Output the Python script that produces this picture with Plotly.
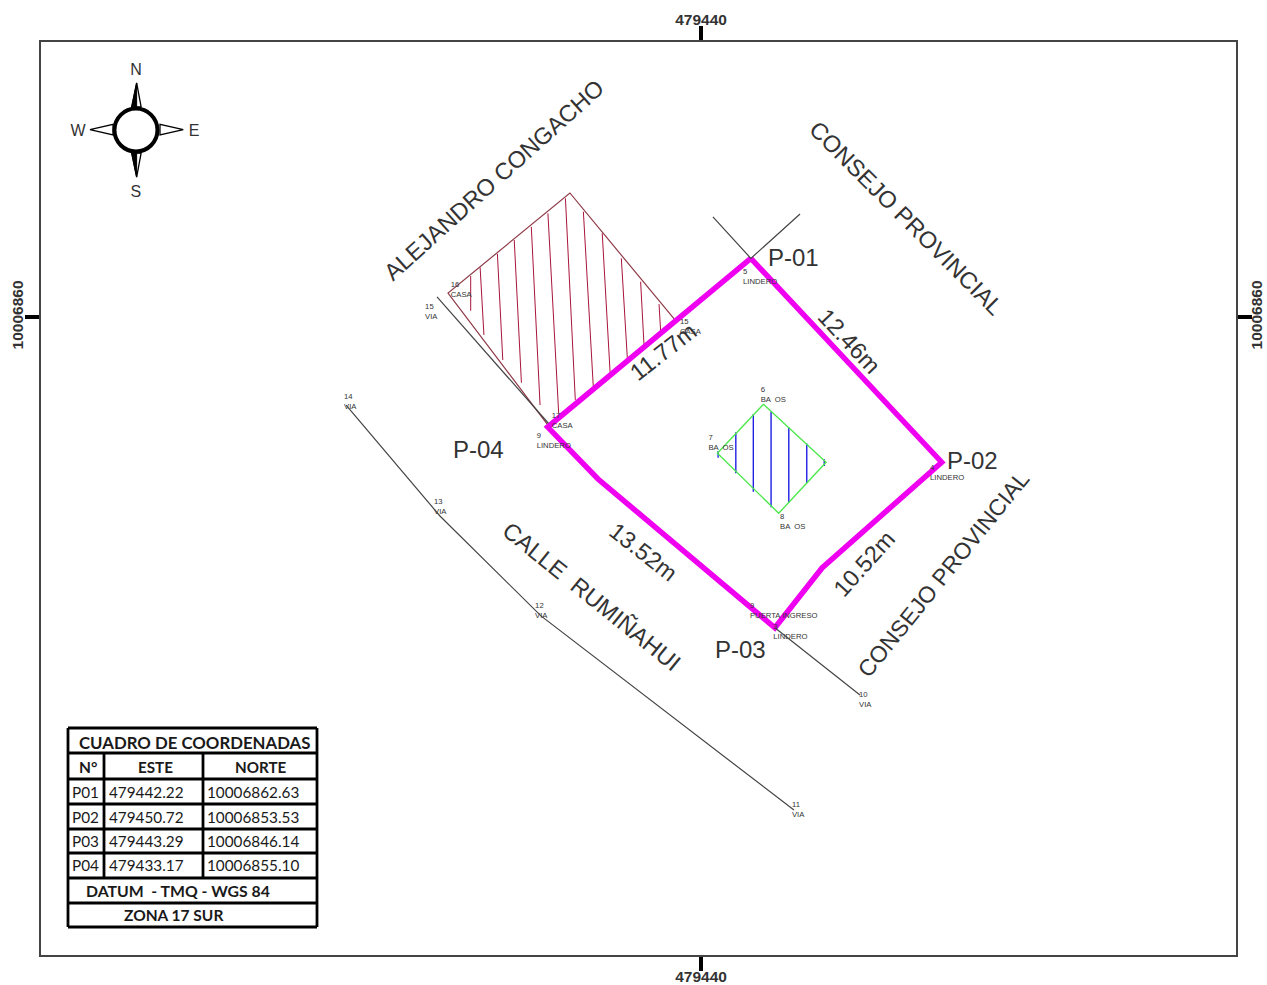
import plotly.graph_objects as go

# Map coordinates (metres, WGS84 / TMQ)
lot_este = [479442.22, 479450.72, 479445.39, 479443.29, 479435.41, 479433.17, 479442.22]
lot_norte = [10006862.63, 10006853.53, 10006848.81, 10006846.14, 10006852.78, 10006855.10, 10006862.63]

casa_este = [479438.84, 479434.16, 479428.73, 479433.18]
casa_norte = [10006859.88, 10006865.55, 10006861.08, 10006855.19]

casa_hatch_este = [479429.74, 479429.74, None, 479430.16, 479430.33, None, 479430.93, 479431.17, None,
                   479431.68, 479432.00, None, 479432.44, 479432.83, None, 479433.18, 479433.66, None,
                   479433.96, 479434.40, None, 479434.76, 479435.20, None, 479435.60, 479435.95, None,
                   479436.45, 479436.72, None, 479437.31, 479437.46, None, 479438.13, 479438.20]
casa_hatch_norte = [10006861.84, 10006860.29, None, 10006862.23, 10006859.21, None, 10006862.83, 10006858.09, None,
                    10006863.45, 10006857.08, None, 10006864.04, 10006856.08, None, 10006864.64, 10006855.71, None,
                    10006865.31, 10006856.31, None, 10006864.71, 10006856.93, None, 10006863.75, 10006857.54, None,
                    10006862.63, 10006858.14, None, 10006861.59, 10006858.76, None, 10006860.59, 10006859.40]

banos_este = [479442.78, 479445.57, 479443.46, 479440.73, 479442.78]
banos_norte = [10006856.12, 10006853.53, 10006851.25, 10006853.93, 10006856.12]

banos_hatch_este = [479440.76, 479440.76, None, 479441.55, 479441.55, None, 479442.33, 479442.33, None,
                    479443.12, 479443.12, None, 479443.91, 479443.91, None, 479444.71, 479444.71, None,
                    479445.49, 479445.49]
banos_hatch_norte = [10006854.03, 10006853.73, None, 10006854.87, 10006853.04, None, 10006855.68, 10006852.21, None,
                     10006855.79, 10006851.52, None, 10006855.09, 10006851.72, None, 10006854.37, 10006852.59, None,
                     10006853.66, 10006853.36]

via_este = [479424.19, 479428.37, 479432.87, 479444.14, None, 479428.24, 479433.20, None,
            479443.29, 479447.08, None, 479440.53, 479442.22, 479444.41]
via_norte = [10006856.08, 10006851.13, 10006846.67, 10006838.00, None, 10006860.91, 10006855.27, None,
             10006846.14, 10006843.14, None, 10006864.48, 10006862.63, 10006864.61]

punto_este = [479441.87, 479450.20, 479443.22, 479432.68, 479442.18, 479442.66, 479440.33, 479443.52,
              479447.04, 479444.05, 479432.61, 479428.11, 479424.10, 479427.71, 479428.85, 479439.06, 479433.35]
punto_norte = [10006861.80, 10006853.05, 10006845.96, 10006854.48, 10006846.89, 10006856.53, 10006854.37, 10006850.87,
               10006842.92, 10006838.00, 10006846.89, 10006851.53, 10006856.22, 10006860.24, 10006861.22, 10006859.57, 10006855.37]
punto_txt = ["5<br>LINDERO", "4<br>LINDERO", "3<br>LINDERO", "9<br>LINDERO", "9<br>PUERTA INGRESO",
             "6<br>BA  OS", "7<br>BA  OS", "8<br>BA  OS", "10<br>VIA", "11<br>VIA", "12<br>VIA", "13<br>VIA",
             "14<br>VIA", "15<br>VIA", "16<br>CASA", "15<br>CASA", "17<br>CASA"]

rot_txt = ["ALEJANDRO CONGACHO", "CONSEJO PROVINCIAL", "CONSEJO PROVINCIAL", "CALLE  RUMIÑAHUI",
           "11.77m", "12.46m", "13.52m", "10.52m", "P-01", "P-02", "P-03", "P-04"]
rot_este = [479430.78, 479449.13, 479450.80, 479435.14, 479438.31, 479446.59, 479437.42, 479447.26,
            479444.12, 479452.10, 479441.76, 479430.09]
rot_norte = [10006866.13, 10006864.43, 10006848.54, 10006847.51, 10006858.45, 10006858.94, 10006849.52, 10006848.99,
             10006862.65, 10006853.62, 10006845.19, 10006854.08]
rot_ang = [-42, 45, -51, 39, -38, 47, 38, -48, 0, 0, 0, 0]
rot_size = [23.5, 23.5, 23, 23.5, 23.5, 23.5, 23.5, 23.5, 24, 24, 24, 24]

compass_x = 479414.83
compass_y = 10006868.36
arrow_este = [[479414.86, 479414.64, 479415.06, 479414.86], [479416.94, 479415.90, 479415.90, 479416.94],
              [479414.86, 479414.64, 479415.06, 479414.86], [479412.78, 479413.81, 479413.81, 479412.78]]
arrow_norte = [[10006870.46, 10006869.39, 10006869.39, 10006870.46], [10006868.38, 10006868.61, 10006868.14, 10006868.38],
               [10006866.26, 10006867.33, 10006867.33, 10006866.26], [10006868.38, 10006868.61, 10006868.14, 10006868.38]]
half_este = [[479414.86, 479414.64, 479414.86, 479414.86], [479414.86, 479414.64, 479414.86, 479414.86]]
half_norte = [[10006870.46, 10006869.39, 10006869.39, 10006870.46], [10006866.26, 10006867.33, 10006867.33, 10006866.26]]
card_txt = ["N", "E", "S", "W"]
card_este = [479414.83, 479417.42, 479414.83, 479412.25]
card_norte = [10006870.99, 10006868.27, 10006865.55, 10006868.27]

tabla_filas = ["CUADRO DE COORDENADAS", "N°", "ESTE", "NORTE", "DATUM  - TMQ - WGS 84", "ZONA 17 SUR"]
tabla_n = ["P01", "P02", "P03", "P04"]
tabla_este = ["479442.22", "479450.72", "479443.29", "479433.17"]
tabla_norte = ["10006862.63", "10006853.53", "10006846.14", "10006855.10"]

x_tick = 479440
y_tick = 10006860
x_rng = [479410.60, 479463.83]
y_rng = [10006831.53, 10006872.29]

DARK = "#333333"
fig = go.Figure()


def line(x, y, color, width, xa="x", ya="y"):
    fig.add_trace(go.Scatter(x=x, y=y, mode="lines", xaxis=xa, yaxis=ya,
                             line=dict(color=color, width=width), hoverinfo="skip", showlegend=False))


line(via_este, via_norte, "#444444", 1.2, "x2", "y2")
line(casa_este, casa_norte, "#8e3a46", 1.2)
line(casa_hatch_este, casa_hatch_norte, "#a8143c", 1)
line(banos_hatch_este, banos_hatch_norte, "#1f1fe6", 1.4)
line(banos_este, banos_norte, "#4ee84e", 1.4)
line(lot_este, lot_norte, "#f000f0", 5.5)

for ax, ay in zip(arrow_este, arrow_norte):
    fig.add_trace(go.Scatter(x=ax, y=ay, mode="lines", fill="toself", fillcolor="white",
                             line=dict(color="black", width=1.3), hoverinfo="skip", showlegend=False))
for ax, ay in zip(half_este, half_norte):
    fig.add_trace(go.Scatter(x=ax, y=ay, mode="lines", fill="toself", fillcolor="black",
                             line=dict(color="black", width=1), hoverinfo="skip", showlegend=False))
fig.add_trace(go.Scatter(x=[compass_x], y=[compass_y], mode="markers",
                         marker=dict(size=43, color="white", line=dict(color="black", width=4)),
                         hoverinfo="skip", showlegend=False))
fig.add_trace(go.Scatter(x=card_este, y=card_norte, mode="text", text=card_txt, textposition="middle center",
                         textfont=dict(family="Liberation Sans", size=16, color=DARK), hoverinfo="skip", showlegend=False))
fig.add_trace(go.Scatter(x=punto_este, y=punto_norte, mode="text", text=punto_txt, textposition="middle right",
                         textfont=dict(family="Liberation Sans", size=7.7, color=DARK), hoverinfo="skip", showlegend=False))

for t, x, y, a, s in zip(rot_txt, rot_este, rot_norte, rot_ang, rot_size):
    fig.add_annotation(x=x, y=y, text=t, textangle=a, showarrow=False,
                       font=dict(family="Liberation Sans", size=s, color=DARK))


# Coordinate table, laid out in page terms
def fx(p):
    return (p - 41) / 1195


def fy(p):
    return (955 - p) / 913


col_edges = [68, 104, 203, 317]
row_edges = [728, 753, 779, 804, 829, 853, 878, 903, 927]
row_mid = [767, 792, 817, 841, 865]
TBL = dict(color="black", width=2.8)
for r in row_edges:
    fig.add_shape(type="line", xref="paper", yref="paper", x0=fx(col_edges[0]), x1=fx(col_edges[-1]),
                  y0=fy(r), y1=fy(r), line=TBL)
for i, c in enumerate(col_edges):
    top = row_edges[0] if i in (0, 3) else row_edges[1]
    bot = row_edges[-1] if i in (0, 3) else row_edges[6]
    fig.add_shape(type="line", xref="paper", yref="paper", x0=fx(c), x1=fx(c), y0=fy(top), y1=fy(bot), line=TBL)


def cell(txt, x, y, size, bold=False, anchor="center"):
    fig.add_annotation(xref="paper", yref="paper", x=fx(x), y=fy(y), text=txt, showarrow=False, xanchor=anchor,
                       yanchor="middle", borderpad=0,
                       font=dict(family="Lato", size=size, color="#1a1a1a", weight="bold" if bold else "normal"))


cell(tabla_filas[0], 194, 742.5, 16.8, True)
cell(tabla_filas[1], 88, row_mid[0], 15.5, True)
cell(tabla_filas[2], 155, row_mid[0], 15.2, True)
cell(tabla_filas[3], 260.5, row_mid[0], 15.2, True)
cell(tabla_filas[4], 178, 890.5, 15.8, True)
cell(tabla_filas[5], 173, 915, 15.5, True)
for i in range(4):
    cell(tabla_n[i], 71, row_mid[i + 1], 15.3, anchor="left")
    cell(tabla_este[i], 108, row_mid[i + 1], 15.3, anchor="left")
    cell(tabla_norte[i], 206, row_mid[i + 1], 15.3, anchor="left")

tick_font = dict(family="Liberation Sans", size=15.5, color=DARK, weight="bold")
common = dict(showgrid=False, zeroline=False, showline=True, linecolor="#444444", linewidth=1.5, automargin=False,
              ticks="outside", ticklen=14, tickwidth=3.5, tickcolor="black", tickfont=tick_font)
fig.update_layout(
    width=1267, height=985, margin=dict(l=41, r=31, t=42, b=30, autoexpand=False), paper_bgcolor="white",
    plot_bgcolor="white", showlegend=False, hovermode=False,
    xaxis=dict(range=x_rng, tickmode="array", tickvals=[x_tick], ticktext=[str(x_tick)], side="bottom",
               ticklabelstandoff=-7, **common),
    xaxis2=dict(range=x_rng, tickmode="array", tickvals=[x_tick], ticktext=[str(x_tick)], side="top",
                overlaying="x", anchor="y2", ticklabelstandoff=-5, **common),
    yaxis=dict(range=y_rng, tickmode="array", tickvals=[y_tick], ticktext=[str(y_tick)], side="left", tickangle=-90,
               ticklabelstandoff=-4, **common),
    yaxis2=dict(range=y_rng, tickmode="array", tickvals=[y_tick], ticktext=[str(y_tick)], side="right", tickangle=-90,
                overlaying="y", anchor="x2", ticklabelstandoff=-8, **common),
)
fig.write_html("out.html", config=dict(displayModeBar=False), post_script="document.body.style.margin='0';")
